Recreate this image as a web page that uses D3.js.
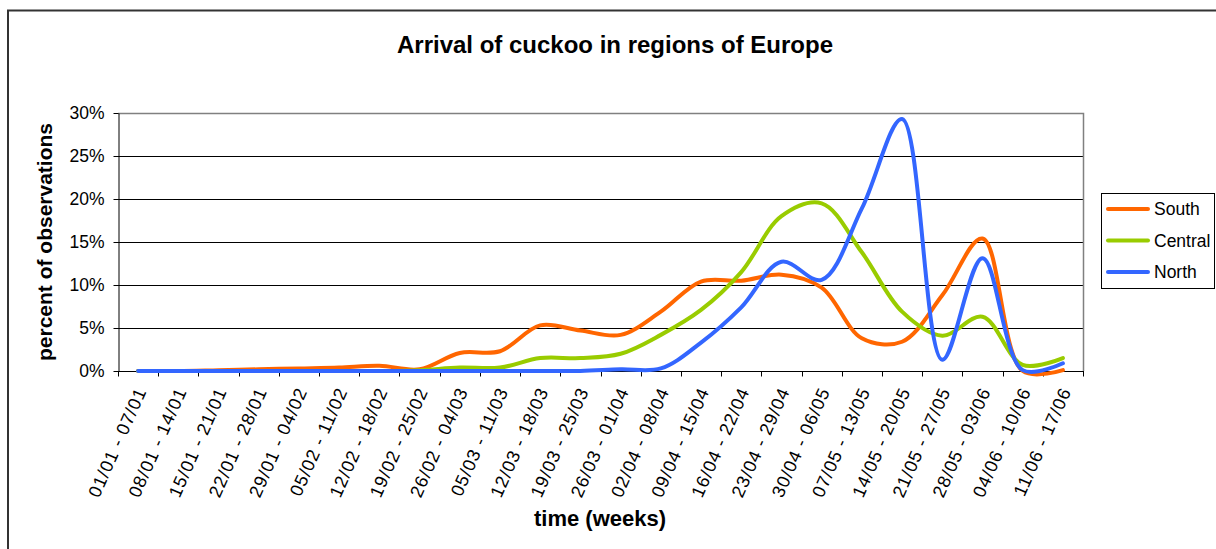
<!DOCTYPE html>
<html>
<head>
<meta charset="utf-8">
<script src="https://cdn.jsdelivr.net/npm/d3@7"></script>
<style>
  html, body { margin: 0; padding: 0; background: #fff; }
  svg { display: block; font-family: "Liberation Sans", Arial, sans-serif; }
</style>
</head>
<body>
<svg id="chart" width="1216" height="549"></svg>
<script>
// Weekly periods (category axis)
const weeks = [
  "01/01 - 07/01", "08/01 - 14/01", "15/01 - 21/01", "22/01 - 28/01",
  "29/01 - 04/02", "05/02 - 11/02", "12/02 - 18/02", "19/02 - 25/02",
  "26/02 - 04/03", "05/03 - 11/03", "12/03 - 18/03", "19/03 - 25/03",
  "26/03 - 01/04", "02/04 - 08/04", "09/04 - 15/04", "16/04 - 22/04",
  "23/04 - 29/04", "30/04 - 06/05", "07/05 - 13/05", "14/05 - 20/05",
  "21/05 - 27/05", "28/05 - 03/06", "04/06 - 10/06", "11/06 - 17/06"
];

// Percent of observations per week
const south   = [0, 0, 0.1, 0.2, 0.3, 0.4, 0.6, 0.2, 2.1, 2.3, 5.3, 4.7, 4.2, 6.9, 10.4, 10.5, 11.2, 9.7, 3.8, 3.4, 8.8, 15.4, 0, 0.1];
const central = [0, 0, 0, 0, 0, 0, 0, 0.1, 0.4, 0.4, 1.5, 1.5, 2.0, 4.2, 7.1, 11.5, 18.0, 19.5, 13.8, 6.9, 4.1, 6.3, 0.7, 1.5];
const north   = [0, 0, 0, 0, 0, 0, 0, 0, 0, 0, 0, 0, 0.2, 0.3, 3.3, 7.4, 12.7, 10.6, 18.9, 29.3, 1.3, 13.1, 0.1, 0.9];

const seriesNames  = ["South", "Central", "North"];
const seriesColors = ["#FF6600", "#99CC00", "#3366FF"];
const yTicks = [0, 5, 10, 15, 20, 25, 30];

const series = [south, central, north].map((values, i) => ({
  name: seriesNames[i], color: seriesColors[i], values
}));

const svg = d3.select("#chart");
const plot = { left: 118, right: 1083, top: 113, bottom: 371 };

// outer chart frame
svg.append("rect")
  .attr("x", 8).attr("y", 10.5)
  .attr("width", 1240).attr("height", 560)
  .attr("fill", "none").attr("stroke", "#333").attr("stroke-width", 2);

const x = d3.scaleBand().domain(weeks).range([plot.left, plot.right]);
const y = d3.scaleLinear().domain([0, 30]).range([plot.bottom, plot.top]);

// horizontal gridlines
svg.append("g")
  .selectAll("line")
  .data(yTicks.filter(t => t > 0 && t < 30))
  .join("line")
  .attr("x1", plot.left).attr("x2", plot.right)
  .attr("y1", d => Math.round(y(d)) + 0.5).attr("y2", d => Math.round(y(d)) + 0.5)
  .attr("stroke", "#000").attr("stroke-width", 1);

// plot area top and right border
svg.append("path")
  .attr("d", `M${plot.left},${y(30) + 0.5}H${plot.right + 0.5}V${plot.bottom}`)
  .attr("fill", "none").attr("stroke", "#808080").attr("stroke-width", 1.5);

// y axis
const yAxis = svg.append("g")
  .attr("transform", `translate(${plot.left + 0.5},0)`)
  .call(d3.axisLeft(y).tickValues(yTicks).tickFormat(d => d + "%").tickSize(5).tickSizeOuter(0));
yAxis.select(".domain").attr("stroke", "#000");
yAxis.selectAll(".tick line").attr("stroke", "#000");
yAxis.selectAll(".tick text")
  .attr("x", -14)
  .attr("font-size", 17.5).attr("fill", "#000")
  .attr("font-family", "Liberation Sans, Arial, sans-serif");

// x axis: ticks on category boundaries
const xAxisG = svg.append("g").attr("transform", `translate(0,${plot.bottom + 0.5})`);
xAxisG.append("line")
  .attr("x1", plot.left).attr("x2", plot.right + 1)
  .attr("stroke", "#000");
xAxisG.selectAll("line.tk")
  .data(d3.range(weeks.length + 1))
  .join("line").attr("class", "tk")
  .attr("x1", i => Math.round(plot.left + i * x.step()) + 0.5)
  .attr("x2", i => Math.round(plot.left + i * x.step()) + 0.5)
  .attr("y1", 0).attr("y2", 5)
  .attr("stroke", "#000");

xAxisG.selectAll("text")
  .data(weeks)
  .join("text")
  .attr("transform", d => `translate(${x(d) + x.bandwidth() / 2 + 3},${17}) rotate(-66)`)
  .attr("text-anchor", "end")
  .attr("dy", "0.35em")
  .attr("font-size", 18)
  .attr("letter-spacing", 0.9)
  .text(d => d);

// series lines
const line = d3.line()
  .x((d, i) => x(weeks[i]) + x.bandwidth() / 2)
  .y(d => y(d))
  .curve(d3.curveCatmullRom.alpha(0.5));

svg.append("g")
  .selectAll("path")
  .data(series)
  .join("path")
  .attr("d", s => line(s.values))
  .attr("fill", "none")
  .attr("stroke", s => s.color)
  .attr("stroke-width", 4)
  .attr("stroke-linejoin", "round")
  .attr("stroke-linecap", "round");

// title
svg.append("text")
  .attr("x", 615).attr("y", 53)
  .attr("text-anchor", "middle")
  .attr("font-size", 24).attr("font-weight", "bold")
  .text("Arrival of cuckoo in regions of Europe");

// axis titles
svg.append("text")
  .attr("x", 600).attr("y", 526)
  .attr("text-anchor", "middle")
  .attr("font-size", 22).attr("font-weight", "bold")
  .text("time (weeks)");

svg.append("text")
  .attr("transform", "translate(52,242) rotate(-90)")
  .attr("text-anchor", "middle")
  .attr("font-size", 21).attr("font-weight", "bold")
  .text("percent of observations");

// legend
const legend = svg.append("g");
legend.append("rect")
  .attr("x", 1101.5).attr("y", 193.5)
  .attr("width", 113).attr("height", 95)
  .attr("fill", "#fff").attr("stroke", "#000").attr("stroke-width", 1);

const rows = legend.selectAll("g.row")
  .data(series)
  .join("g").attr("class", "row")
  .attr("transform", (d, i) => `translate(0,${209 + i * 31.5})`);
rows.append("line")
  .attr("x1", 1108).attr("x2", 1148)
  .attr("stroke", d => d.color).attr("stroke-width", 4).attr("stroke-linecap", "round");
rows.append("text")
  .attr("x", 1154).attr("dy", "0.36em")
  .attr("font-size", 17.5)
  .text(d => d.name);
</script>
</body>
</html>
